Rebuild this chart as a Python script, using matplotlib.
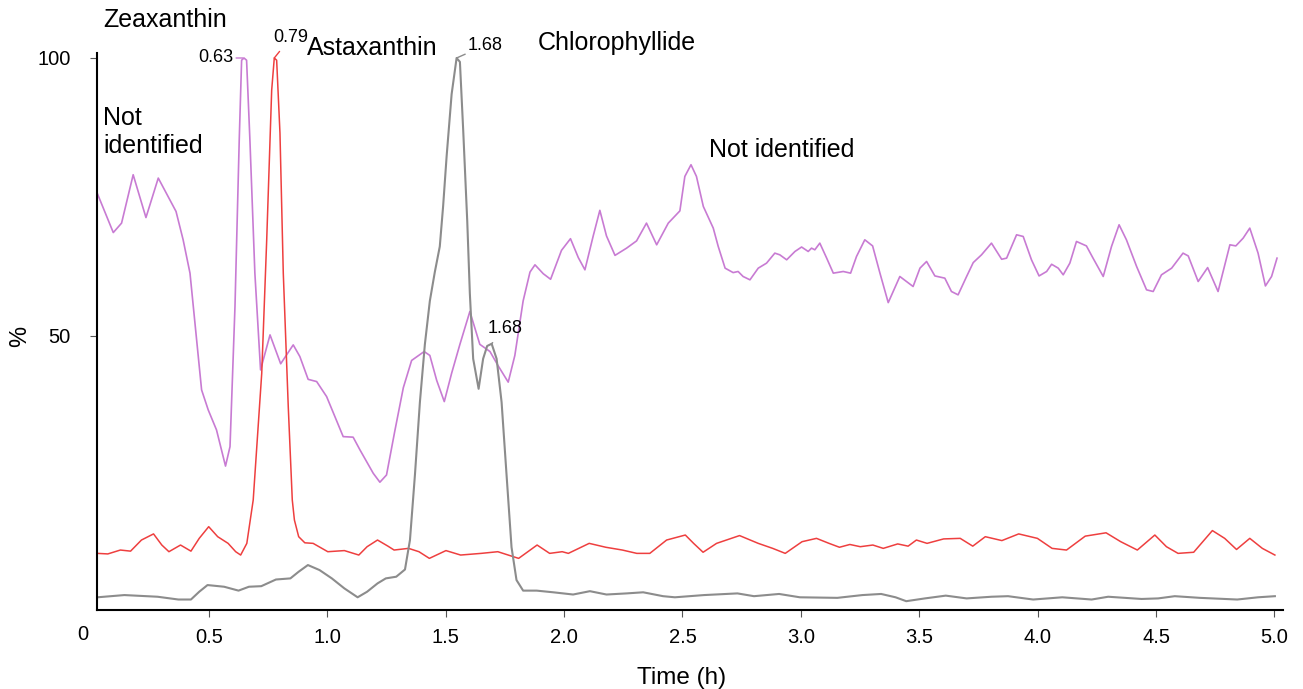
import numpy as np
import matplotlib
matplotlib.use('Agg')
from matplotlib import pyplot as plt

plt.rcParams['font.family'] = ['Liberation Sans', 'DejaVu Sans']

# purple trace (not identified / zeaxanthin)
t_purple = [0.028, 0.096, 0.131, 0.180, 0.234, 0.286, 0.335, 0.361, 0.391, 0.420,
            0.448, 0.469, 0.497, 0.532, 0.570, 0.589, 0.610, 0.628, 0.638, 0.648,
            0.659, 0.673, 0.694, 0.718, 0.758, 0.803, 0.856, 0.884, 0.919, 0.955,
            0.997, 1.032, 1.067, 1.109, 1.138, 1.194, 1.222, 1.250, 1.285, 1.321,
            1.356, 1.409, 1.433, 1.462, 1.494, 1.525, 1.560, 1.602, 1.644, 1.687,
            1.722, 1.764, 1.792, 1.827, 1.856, 1.877, 1.912, 1.943, 1.989, 2.027,
            2.060, 2.088, 2.123, 2.151, 2.179, 2.215, 2.264, 2.306, 2.348, 2.391,
            2.440, 2.489, 2.510, 2.536, 2.559, 2.588, 2.630, 2.651, 2.680, 2.714,
            2.735, 2.756, 2.785, 2.820, 2.855, 2.890, 2.911, 2.940, 2.975, 3.003,
            3.031, 3.045, 3.059, 3.080, 3.109, 3.137, 3.179, 3.210, 3.235, 3.270,
            3.303, 3.334, 3.369, 3.418, 3.474, 3.503, 3.531, 3.566, 3.608, 3.636,
            3.664, 3.700, 3.728, 3.763, 3.805, 3.848, 3.869, 3.911, 3.939, 3.974,
            4.006, 4.038, 4.059, 4.087, 4.108, 4.136, 4.164, 4.206, 4.234, 4.277,
            4.312, 4.344, 4.375, 4.418, 4.460, 4.488, 4.523, 4.566, 4.614, 4.636,
            4.678, 4.718, 4.762, 4.812, 4.837, 4.868, 4.896, 4.931, 4.962, 4.988,
            5.011]
v_purple = [75.7, 68.6, 70.3, 79.0, 71.3, 78.4, 74.5, 72.4, 67.3, 61.3,
            49.3, 40.3, 36.7, 33.1, 26.6, 30.1, 55.3, 85.3, 99.6, 100.0,
            99.6, 85.3, 61.3, 43.9, 50.2, 45.0, 48.4, 46.3, 42.2, 41.8,
            39.1, 35.5, 31.9, 31.8, 29.5, 25.3, 23.7, 25.0, 32.9, 40.7,
            45.6, 47.2, 46.5, 42.0, 38.2, 43.3, 48.5, 54.4, 48.5, 47.2,
            44.6, 41.7, 46.5, 56.3, 61.5, 62.8, 61.2, 60.2, 65.4, 67.5,
            64.1, 61.9, 68.0, 72.6, 68.0, 64.5, 65.8, 67.1, 70.3, 66.4,
            70.3, 72.5, 78.7, 80.8, 78.7, 73.3, 69.4, 66.1, 62.2, 61.4,
            61.6, 60.7, 60.1, 62.2, 63.1, 64.9, 64.6, 63.7, 65.2, 66.0,
            65.2, 65.8, 65.5, 66.7, 64.0, 61.3, 61.6, 61.3, 64.3, 67.3,
            66.2, 61.3, 56.0, 60.7, 58.9, 62.2, 63.4, 60.8, 60.4, 58.0,
            57.4, 60.7, 63.2, 64.6, 66.7, 63.8, 64.0, 68.2, 67.9, 63.7,
            60.8, 61.6, 62.9, 62.2, 61.0, 63.1, 67.0, 66.2, 64.0, 60.7,
            66.1, 70.0, 67.3, 62.5, 58.3, 58.0, 61.0, 62.2, 64.9, 64.4,
            59.8, 62.3, 58.0, 66.4, 66.2, 67.6, 69.4, 64.9, 59.0, 60.7,
            64.0]

# red trace (astaxanthin)
t_red = [0.029, 0.073, 0.126, 0.169, 0.215, 0.266, 0.301, 0.331, 0.380, 0.424,
         0.459, 0.499, 0.537, 0.581, 0.613, 0.634, 0.660, 0.687, 0.723, 0.744,
         0.765, 0.776, 0.786, 0.800, 0.814, 0.835, 0.852, 0.861, 0.879, 0.905,
         0.940, 1.002, 1.072, 1.133, 1.168, 1.212, 1.256, 1.282, 1.343, 1.387,
         1.431, 1.501, 1.563, 1.650, 1.720, 1.808, 1.886, 1.939, 1.992, 2.018,
         2.106, 2.176, 2.246, 2.307, 2.362, 2.433, 2.512, 2.547, 2.587, 2.644,
         2.741, 2.820, 2.881, 2.934, 3.005, 3.066, 3.119, 3.163, 3.207, 3.251,
         3.304, 3.348, 3.409, 3.453, 3.488, 3.533, 3.603, 3.673, 3.726, 3.779,
         3.849, 3.920, 3.999, 4.061, 4.122, 4.201, 4.289, 4.351, 4.421, 4.495,
         4.544, 4.593, 4.659, 4.738, 4.790, 4.840, 4.896, 4.949, 5.002]
v_red = [10.9, 10.8, 11.5, 11.3, 13.3, 14.4, 12.4, 11.2, 12.4, 11.3,
         13.6, 15.7, 13.9, 12.7, 11.2, 10.6, 12.7, 20.5, 43.3, 67.3,
         94.2, 100.0, 99.6, 86.5, 61.3, 37.3, 20.5, 16.9, 13.9, 12.8,
         12.7, 11.2, 11.4, 10.6, 12.1, 13.3, 12.2, 11.5, 11.8, 11.2,
         10.0, 11.4, 10.6, 10.9, 11.2, 10.0, 12.4, 10.9, 11.2, 10.9,
         12.7, 12.0, 11.5, 10.9, 10.9, 13.3, 14.2, 12.7, 11.1, 12.7,
         14.1, 12.7, 11.8, 10.9, 13.0, 13.6, 12.7, 12.0, 12.5, 12.1,
         12.4, 11.8, 12.6, 12.2, 13.3, 12.7, 13.5, 13.6, 12.2, 13.9,
         13.2, 14.4, 13.6, 11.8, 11.5, 14.0, 14.6, 13.0, 11.5, 14.2,
         12.1, 10.9, 11.1, 15.0, 13.6, 11.6, 13.6, 11.8, 10.6]

# grey trace (chlorophyllide)
t_grey = [0.029, 0.143, 0.283, 0.371, 0.424, 0.459, 0.494, 0.564, 0.625, 0.669,
          0.721, 0.783, 0.844, 0.879, 0.918, 0.967, 1.019, 1.072, 1.128, 1.168,
          1.212, 1.247, 1.291, 1.328, 1.349, 1.370, 1.391, 1.412, 1.433, 1.454,
          1.475, 1.489, 1.504, 1.525, 1.546, 1.560, 1.574, 1.591, 1.602, 1.616,
          1.639, 1.658, 1.675, 1.694, 1.715, 1.736, 1.757, 1.778, 1.799, 1.827,
          1.884, 1.954, 2.038, 2.109, 2.179, 2.264, 2.334, 2.418, 2.468, 2.591,
          2.732, 2.802, 2.908, 2.996, 3.154, 3.260, 3.339, 3.400, 3.445, 3.524,
          3.612, 3.700, 3.805, 3.875, 3.981, 4.104, 4.228, 4.298, 4.439, 4.509,
          4.579, 4.685, 4.843, 4.931, 5.002]
v_grey = [3.0, 3.4, 3.1, 2.6, 2.6, 4.0, 5.2, 4.9, 4.2, 4.9,
          5.0, 6.2, 6.4, 7.6, 8.8, 7.9, 6.4, 4.6, 3.0, 4.0,
          5.5, 6.4, 6.7, 8.0, 13.3, 25.0, 38.1, 48.5, 56.3, 61.5,
          66.1, 73.3, 82.4, 93.5, 100.0, 99.3, 86.9, 70.6, 57.6, 45.9,
          40.5, 45.9, 48.2, 48.6, 45.9, 38.1, 25.0, 12.0, 6.1, 4.2,
          4.2, 3.9, 3.5, 4.1, 3.5, 3.7, 3.9, 3.2, 3.0, 3.4,
          3.7, 3.2, 3.6, 3.0, 2.9, 3.4, 3.6, 3.0, 2.3, 2.8,
          3.3, 2.8, 3.1, 3.2, 2.6, 3.0, 2.6, 3.1, 2.7, 2.8,
          3.2, 2.9, 2.6, 3.0, 3.2]

x_ticks = [0.5, 1.0, 1.5, 2.0, 2.5, 3.0, 3.5, 4.0, 4.5, 5.0]
x_ticklabels = ['0.5', '1.0', '1.5', '2.0', '2.5', '3.0', '3.5', '4.0', '4.5', '5.0']
y_ticks = [50, 100]

c_purple = '#c87bd3'
c_red = '#ee3f3f'
c_grey = '#8c8c8c'

fig = plt.figure(figsize=(13.03, 6.89), dpi=100)
ax = fig.add_axes([0.0744, 0.1147, 0.9102, 0.8084])

ax.plot(t_purple, v_purple, color=c_purple, lw=1.2, solid_joinstyle='round')
ax.plot(t_red, v_red, color=c_red, lw=1.1, solid_joinstyle='round')
ax.plot(t_grey, v_grey, color=c_grey, lw=1.5, solid_joinstyle='round')

ax.set_xlim(0.027, 5.036)
ax.set_ylim(0.72, 100.9)
for s in ['top', 'right']:
    ax.spines[s].set_visible(False)
for s in ['left', 'bottom']:
    ax.spines[s].set_linewidth(1.5)

ax.set_xticks(x_ticks)
ax.set_xticklabels(x_ticklabels)
ax.set_yticks(y_ticks)
ax.tick_params(axis='x', length=5, width=0.8, color='#555555', labelsize=14.5, pad=8)
ax.tick_params(axis='y', length=5, width=0.8, color='#555555', labelsize=14.5, pad=14)
fig.text(83 / 1303, 1 - 634 / 689, '0', fontsize=14.5, ha='center', va='center')

ax.set_xlabel('Time (h)', fontsize=17.5)
ax.xaxis.label.set_va('center')
ax.xaxis.set_label_coords((682 - 97) / 1186, (610 - 678) / 557)
ax.set_ylabel('%', fontsize=17)
ax.yaxis.label.set_va('center')
ax.yaxis.set_label_coords((20 - 97) / 1186, (610 - 336) / 557)

# peak labels
kw = dict(fontsize=18, va='center', annotation_clip=False)
ax.annotate('Zeaxanthin', xy=(0.053, 106.8), **kw)
ax.annotate('Not\nidentified', xy=(0.053, 86.7), linespacing=1.25, **kw)
ax.annotate('Astaxanthin', xy=(0.914, 101.8), **kw)
ax.annotate('Chlorophyllide', xy=(1.89, 102.7), **kw)
ax.annotate('Not identified', xy=(2.612, 83.5), **kw)

small = dict(fontsize=13, va='center', annotation_clip=False)
ax.annotate('0.63', xy=(0.643, 100.0), xytext=(0.603, 100.0), ha='right',
            arrowprops=dict(arrowstyle='-', color=c_purple, lw=1, shrinkA=0, shrinkB=0), **small)
ax.annotate('0.79', xy=(0.776, 100.0), xytext=(0.77, 103.6), ha='left',
            arrowprops=dict(arrowstyle='-', color=c_red, lw=1, shrinkA=2, shrinkB=0), **small)
ax.annotate('1.68', xy=(1.546, 100.0), xytext=(1.594, 102.3), ha='left',
            arrowprops=dict(arrowstyle='-', color=c_grey, lw=1, shrinkA=0, shrinkB=0), **small)
ax.annotate('1.68', xy=(1.694, 48.6), xytext=(1.678, 51.4), ha='left',
            arrowprops=dict(arrowstyle='-', color=c_grey, lw=1, shrinkA=3, shrinkB=0), **small)

plt.savefig('out.png', dpi=100)
